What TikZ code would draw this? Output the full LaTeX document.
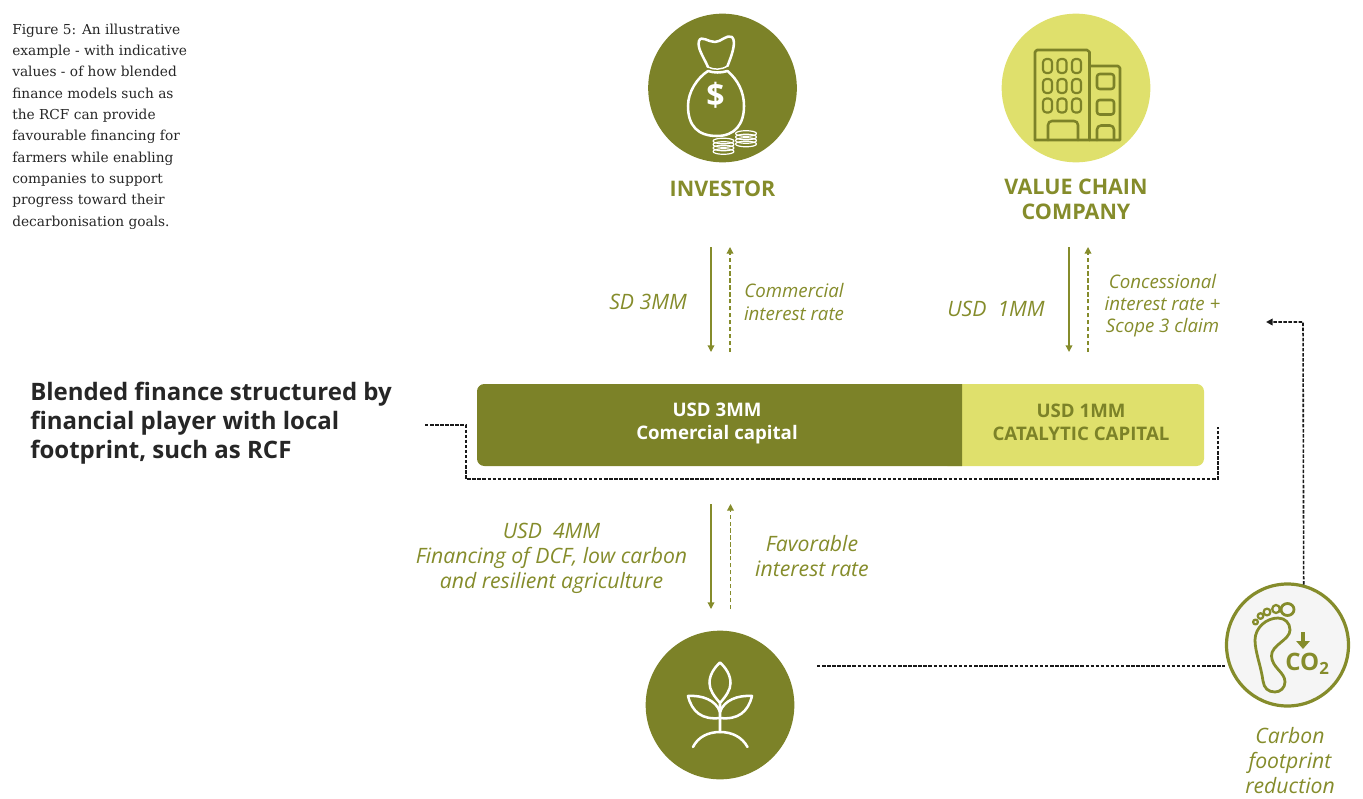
\documentclass[tikz,border=0pt]{standalone}
\usepackage{fontspec}
\setmainfont{Open Sans}
\newfontfamily\captionserif{DejaVu Serif}
\usetikzlibrary{arrows.meta}
\definecolor{olivedark}{HTML}{7C8228}
\definecolor{olivetext}{HTML}{858C2B}
\definecolor{olivelight}{HTML}{DFE06C}
\definecolor{footgrey}{HTML}{F5F5F5}
\tikzset{
	disc/.style={circle,inner sep=0pt,minimum size=111.5pt},
	flowdown/.style={olivetext,line width=1pt,-{Triangle[length=5pt,width=5pt]}},
	flowup/.style={olivetext,line width=1pt,dash pattern=on 3.2pt off 2pt,-{Triangle[length=5pt,width=5pt]}},
	linkdash/.style={black!90,line width=1.2pt,dash pattern=on 2.6pt off 1.2pt},
	rolelabel/.style={text=olivetext,font=\fontsize{16.1}{18.6}\selectfont\bfseries,align=center,inner sep=0pt},
	flowlabel/.style={text=olivetext,font=\fontsize{14}{16.6}\selectfont\itshape,align=center,inner sep=0pt},
	widelabel/.style={text=olivetext,font=\fontsize{15.9}{18.75}\selectfont\itshape,align=center,inner sep=0pt},
	barlabel/.style={font=\fontsize{14}{17}\selectfont\bfseries,align=center,inner sep=0pt},
	iconwhite/.style={white,line width=1.9pt,line join=round,line cap=round},
	iconolive/.style={olivedark,line width=1.9pt,line join=round,line cap=round},
	iconfoot/.style={olivetext,line width=2.1pt,line join=round,line cap=round},
}
\begin{document}
\begin{tikzpicture}[x=0.75pt,y=0.75pt,yscale=-1,xscale=1]
	\useasboundingbox (0,0) rectangle (1363,799);
	
	%Investor
	\node [disc,fill=olivedark] (investor) at (722.5,88) {};
	\draw [iconwhite] (708,67) .. controls (703,56) and (697,48) .. (699,41) .. controls (701,35) and (708,42) .. (715,42) .. controls (721,42) and (727,34) .. (732,37) .. controls (737,42) and (731,57) .. (727.5,66) ;
	\draw [iconwhite,line width=1.1pt] (708,67) .. controls (714,70) and (721,70) .. (727.5,66) ;
	\draw [iconwhite] (708,71) .. controls (697,78) and (688,92) .. (688,106) .. controls (688,126) and (698,136) .. (717,136) .. controls (735,136) and (744,124) .. (744,106) .. controls (744,92) and (738,80) .. (727.5,71) .. controls (721,73) and (714,73) .. (708,71) ;
	\node [text=white,font=\fontsize{24}{24}\selectfont\bfseries,inner sep=0pt] (dollar) at (715.5,95) {\$};
	\foreach \ya in {141,144.5,148,151.5}
		\draw [iconwhite,line width=0.9pt] (723.5,\ya) ellipse (10.5 and 2.8);
	\foreach \ya in {133.5,137,140.5,144}
		\draw [iconwhite,line width=0.9pt] (746,\ya) ellipse (10.5 and 2.8);
	
	%Value chain company
	\node [disc,fill=olivelight] (company) at (1076,88) {};
	\draw [iconolive] (1035,140) -- (1035,52) -- (1037,50) -- (1087,50) -- (1089.5,52) -- (1089.5,140) ;
	\draw [iconolive] (1089.5,66) -- (1118,66) -- (1120,68) -- (1120,140) -- (1035,140) ;
	\foreach \xa in {1043,1057.5,1072}
		\foreach \ya in {59,79,98.5}
			\draw [iconolive,line width=1.6pt,rounded corners=2.5pt] (\xa,\ya) rectangle (\xa+9,\ya+14);
	\draw [iconolive,rounded corners=3pt] (1048,140) -- (1048,121) -- (1078,121) -- (1078,140) ;
	\draw [iconolive,rounded corners=2pt] (1097,74) rectangle (1114,89);
	\draw [iconolive,rounded corners=2pt] (1097,100) rectangle (1114,114.5);
	\draw [iconolive,rounded corners=3pt] (1097,140) -- (1097,125.5) -- (1114,125.5) -- (1114,140) ;
	
	%Bar
	\fill [olivelight,rounded corners=5.5pt] (940,384) rectangle (1204,466);
	\begin{scope}
		\clip (477,384) rectangle (962,466);
		\fill [olivedark,rounded corners=5.5pt] (477,384) rectangle (1000,466);
	\end{scope}
	\node [barlabel,text=white] (commercial) at (717,423.5) {USD 3MM\\Comercial capital};
	\node [barlabel,text=olivedark] (catalytic) at (1081,422) {USD 1MM\\CATALYTIC CAPITAL};
	
	%Farmer
	\node [disc,fill=olivedark] (farmer) at (720,705) {};
	\draw [iconwhite] (720,703) .. controls (714,696) and (709.5,690) .. (709.5,683) .. controls (709.5,675) and (714,668) .. (720,662.5) .. controls (726,668) and (730.5,675) .. (730.5,683) .. controls (730.5,690) and (726,696) .. (720,703) -- (720,732) ;
	\draw [iconwhite] (720,718) .. controls (702,720) and (692,712) .. (688,696) .. controls (702,695) and (716,700) .. (720,712) ;
	\draw [iconwhite] (720,718) .. controls (738,720) and (748,712) .. (752,696) .. controls (738,695) and (724,700) .. (720,712) ;
	\draw [iconwhite] (693,747) .. controls (698,737) and (708,732) .. (720,732) .. controls (732,732) and (742,737) .. (747.5,747) ;
	
	%Carbon footprint
	\node [circle,draw=olivetext,line width=2.4pt,fill=footgrey,inner sep=0pt,minimum size=91.5pt] (footprint) at (1287.5,645) {};
	\draw [iconfoot] (1278,618) .. controls (1285,618) and (1290,623) .. (1290,630) .. controls (1290,640) and (1271,645) .. (1271.5,656) .. controls (1272,668) and (1285,672) .. (1285,682) .. controls (1285,688) and (1280,692) .. (1275,692) .. controls (1268,692) and (1264,688) .. (1263,681) .. controls (1261,666) and (1255,652) .. (1255,640) .. controls (1255,628) and (1266,618) .. (1278,618) -- cycle;
	\draw [iconfoot] (1287.5,609.5) ellipse (6.5 and 6);
	\draw [iconfoot,line width=1.7pt] (1276,609) ellipse (3.8 and 4);
	\draw [iconfoot,line width=1.7pt] (1267,612) ellipse (3.4 and 3.4);
	\draw [iconfoot,line width=1.7pt] (1260.5,616) ellipse (2.8 and 2.8);
	\draw [iconfoot,line width=1.7pt] (1255.5,622) ellipse (2.4 and 2.4);
	\draw [olivetext,line width=2.4pt,-{Triangle[length=6pt,width=10pt]}] (1303,632) -- (1303,649) ;
	\node [text=olivetext,font=\fontsize{18}{18}\selectfont\bfseries,inner sep=0pt] (cotwo) at (1307.5,664) {CO\textsubscript{2}};
	
	%Flow arrows
	\coordinate (investorDownA) at (711,247);
	\coordinate (investorDownB) at (711,352);
	\coordinate (investorUpA) at (730,352);
	\coordinate (investorUpB) at (730,247);
	\coordinate (companyDownA) at (1069,247);
	\coordinate (companyDownB) at (1069,352);
	\coordinate (companyUpA) at (1088,352);
	\coordinate (companyUpB) at (1088,247);
	\coordinate (farmerDownA) at (711,504);
	\coordinate (farmerDownB) at (711,609);
	\coordinate (farmerUpA) at (730.5,609);
	\coordinate (farmerUpB) at (730.5,504);
	\draw [flowdown] (investorDownA) -- (investorDownB) ;
	\draw [flowup] (investorUpA) -- (investorUpB) ;
	\draw [flowdown] (companyDownA) -- (companyDownB) ;
	\draw [flowup] (companyUpA) -- (companyUpB) ;
	\draw [flowdown] (farmerDownA) -- (farmerDownB) ;
	\draw [flowup] (farmerUpA) -- (farmerUpB) ;
	
	%Dashed links
	\coordinate (headingEnd) at (425,425);
	\coordinate (barCornerA) at (466,425);
	\coordinate (barCornerB) at (466,479);
	\coordinate (barCornerC) at (1218,479);
	\coordinate (barEnd) at (1218,427);
	\coordinate (farmerEnd) at (817,666);
	\coordinate (claimCorner) at (1303,322);
	\coordinate (claimEnd) at (1266,322);
	\draw [linkdash] (headingEnd) -- (barCornerA) -- (barCornerB) -- (barCornerC) -- (barEnd) ;
	\draw [linkdash] (farmerEnd) -- (farmerEnd -| footprint.west) ;
	\draw [linkdash,-{Triangle[length=5pt,width=5pt]}] (footprint.75) -- (claimCorner) -- (claimEnd) ;
	
	% Text Node
	\node [anchor=north west,inner sep=0pt,align=left,font=\captionserif\fontsize{10.3}{16}\selectfont,text=black!85] (caption) at (12,23.5) {Figure 5: An illustrative\\example - with indicative\\values - of how blended\\finance models such as\\the RCF can provide\\favourable financing for\\farmers while enabling\\companies to support\\progress toward their\\decarbonisation goals.};
	% Text Node
	\node [anchor=west,inner sep=0pt,align=left,font=\fontsize{18}{21.8}\selectfont\bfseries,text=black!85] (heading) at (30,423.5) {Blended finance structured by\\financial player with local\\footprint, such as RCF};
	% Text Node
	\node [rolelabel] (investorlabel) at (722.5,188.5) {INVESTOR};
	% Text Node
	\node [rolelabel] (companylabel) at (1076,199) {VALUE CHAIN\\COMPANY};
	% Text Node
	\node [widelabel] (sdlabel) at (648,302) {SD 3MM};
	% Text Node
	\node [flowlabel] (commerciallabel) at (794,302) {Commercial\\interest rate};
	% Text Node
	\node [widelabel] (usdonelabel) at (996,309) {USD\ \ 1MM};
	% Text Node
	\node [flowlabel] (concessionlabel) at (1162.5,305.5) {Concessional\\interest rate +\\Scope 3 claim};
	% Text Node
	\node [widelabel] (financinglabel) at (551.5,558) {USD\ \ 4MM\\Financing of DCF, low carbon\\and resilient agriculture};
	% Text Node
	\node [widelabel] (favorablelabel) at (812,556) {Favorable\\interest rate};
	% Text Node
	\node [widelabel] (carbonlabel) at (1290,761) {Carbon\\footprint\\reduction};
\end{tikzpicture}
\end{document}
